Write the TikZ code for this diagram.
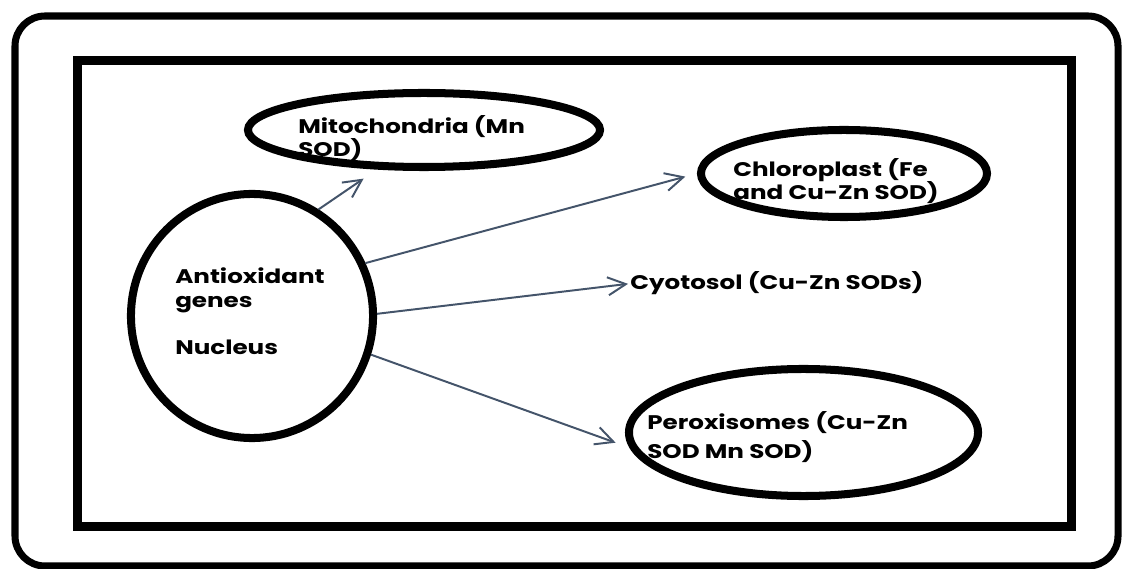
\documentclass[tikz,border=0pt]{standalone}
\usepackage{fontspec}
\setmainfont{Poppins}[FakeStretch=1.25]
\usetikzlibrary{shapes.geometric,arrows.meta}
\definecolor{linkblue}{HTML}{44546A}
\tikzset{
  organelle/.style={ellipse, draw, line width=5.7pt},
  lbl/.style={font=\bfseries\fontsize{14}{17}\selectfont, align=left, inner sep=0pt, anchor=base west},
  link/.style={draw=linkblue, line width=1.4pt, -{Straight Barb[length=0.45cm,width=0.45cm]}}
}
\begin{document}
\begin{tikzpicture}[x=0.025cm,y=-0.025cm]
\useasboundingbox (0,0) rectangle (1122,569);
% frames
\draw[line width=5pt, rounded corners=0.75cm] (15,16) rectangle (1118,566);
\draw[line width=6.4pt] (77,61) rectangle (1071,526);

% compartments
\node[organelle, minimum width=6.05cm, minimum height=6.1cm] (nuc) at (252,316) {};
\node[organelle, minimum width=8.8cm, minimum height=1.85cm] (mito) at (424,130) {};
\node[organelle, minimum width=7.15cm, minimum height=2.175cm] (chl) at (844,173.5) {};
\node[organelle, minimum width=8.725cm, minimum height=3.175cm] (per) at (803.5,432.5) {};

% texts (base = last line)
\node[lbl] (nuctext) at (175,355) {Antioxidant\\genes\\[0.6cm]Nucleus};
\node[lbl] (mitotext) at (298,157) {Mitochondria (Mn\\SOD)};
\node[lbl] (chltext) at (733,200) {Chloroplast (Fe\\and Cu-Zn SOD)};
\node[lbl] (cyto) at (630,290) {Cyotosol (Cu-Zn SODs)};
\node[lbl] (pertext) at (647,458) {Peroxisomes (Cu-Zn\\[3pt]SOD Mn SOD)};

% arrows
\draw[link, shorten >=0.4cm] (nuc.58) -- (mito.220);
\draw[link, shorten >=0.3cm] (nuc.25) -- (chl.west);
\draw[link, shorten >=0.05cm] (nuc.1) -- (cyto.west);
\draw[link, shorten >=0.37cm] (nuc.-18) -- (per.185);
\end{tikzpicture}
\end{document}
